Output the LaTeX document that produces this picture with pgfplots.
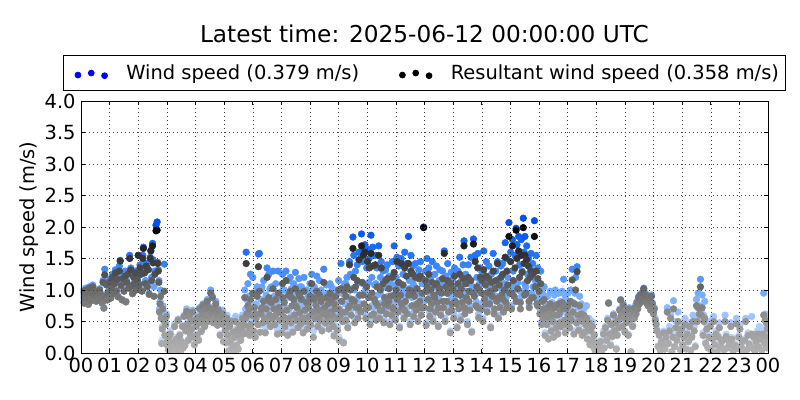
\documentclass[border=0pt]{standalone}
\usepackage{fontspec}
\setmainfont{DejaVu Sans}
\usepackage{pgfplots}
\usepackage{pgfplotstable}
\pgfplotsset{compat=1.18}

\definecolor{legblue}{RGB}{0,0,255}

\pgfplotstableread[row sep=\\]{
t w r\\
.02 .95 .93\\ .05 .85 .84\\ .08 1.0 .98\\ .11 .8 .79\\ .14 .92 .9\\ .17 1.03 1.0\\ .2 .88 .87\\ .23 .97 .95\\
.26 .78 .77\\ .29 1.05 1.03\\ .32 .9 .88\\ .35 .84 .83\\ .38 .98 .96\\ .41 1.08 1.05\\ .44 .86 .85\\ .47 .93 .92\\
.5 .99 .97\\ .53 .83 .82\\ .56 1.0 .98\\ .59 .9 .89\\ .62 .85 .84\\ .65 1.02 1.0\\ .68 .95 .93\\ .71 .88 .87\\
.74 .8 .79\\ .77 1.15 1.12\\ .8 .72 .71\\ .83 1.33 1.24\\ .86 .93 .9\\ .89 1.1 1.08\\ .92 .85 .84\\ .95 .98 .96\\
1.0 1.17 1.13\\ 1.04 .88 .87\\ 1.07 1.05 1.03\\ 1.1 1.25 1.2\\ 1.14 .95 .94\\ 1.17 1.12 1.1\\ 1.2 1.32 1.27\\ 1.24 1.0 .98\\
1.27 1.2 1.17\\ 1.3 .9 .89\\ 1.34 1.38 1.3\\ 1.37 1.47 1.46\\ 1.4 1.1 1.07\\ 1.44 .85 .84\\ 1.47 1.22 1.18\\ 1.5 1.0 .98\\
1.54 1.3 1.22\\ 1.57 .82 .81\\ 1.6 1.15 1.12\\ 1.64 1.27 1.25\\ 1.67 1.05 1.03\\ 1.7 1.55 1.5\\ 1.74 1.35 1.32\\ 1.77 1.08 1.06\\
1.8 .95 .94\\ 1.84 1.22 1.2\\ 1.87 1.12 1.1\\ 1.9 1.3 1.27\\ 1.94 1.02 1.0\\ 1.97 1.2 1.16\\
2.0 1.55 1.55\\ 2.03 1.1 1.08\\ 2.06 1.4 1.35\\ 2.1 1.28 1.25\\ 2.13 1.0 .98\\ 2.16 1.55 1.5\\ 2.18 1.68 1.66\\ 2.22 1.3 1.27\\
2.25 1.15 1.1\\ 2.28 1.42 1.38\\ 2.32 1.1 1.05\\ 2.35 1.33 1.32\\ 2.38 .95 .93\\ 2.42 1.52 1.5\\ 2.44 1.63 1.62\\ 2.47 1.2 1.15\\
2.5 1.74 1.7\\ 2.52 1.48 1.43\\ 2.55 1.05 .9\\ 2.58 1.3 1.25\\ 2.62 2.03 1.94\\ 2.66 2.08 1.95\\ 2.68 1.44 1.42\\ 2.7 1.32 1.3\\
2.72 1.15 1.12\\ 2.74 .7 .65\\ 2.76 .82 .78\\ 2.78 1.0 .9\\ 2.8 .6 .55\\ 2.82 .2 .15\\ 2.84 .42 .38\\ 2.86 .75 .7\\
2.88 .55 .52\\ 2.91 1.41 .98\\ 2.93 .3 .28\\ 2.96 .5 .45\\ 2.98 .62 .58\\
3.0 .15 .13\\ 3.03 .22 .2\\ 3.06 .08 .05\\ 3.09 .28 .27\\ 3.12 .35 .3\\ 3.15 .02 .01\\ 3.18 .18 .17\\ 3.21 .12 .1\\
3.24 .1 .08\\ 3.27 .46 .42\\ 3.3 .05 .04\\ 3.33 .25 .22\\ 3.36 .18 .16\\ 3.39 .54 .52\\ 3.42 .12 .1\\ 3.45 .3 .28\\
3.48 .03 .02\\ 3.51 .2 .18\\ 3.54 .44 .42\\ 3.57 .1 .08\\ 3.6 .6 .58\\ 3.63 .14 .12\\ 3.66 .38 .35\\ 3.69 .7 .66\\
3.72 .48 .45\\ 3.75 .22 .2\\ 3.78 .62 .58\\ 3.81 .33 .3\\ 3.84 .52 .5\\ 3.87 .4 .38\\ 3.9 .68 .65\\ 3.93 .28 .25\\ 3.96 .15 .13\\ 3.99 .56 .52\\
4.02 .45 .42\\ 4.05 .3 .28\\ 4.08 .6 .56\\ 4.11 .22 .2\\ 4.14 .72 .7\\ 4.17 .5 .48\\ 4.2 .36 .34\\ 4.23 .64 .62\\
4.26 .78 .76\\ 4.29 .55 .53\\ 4.32 .45 .42\\ 4.35 .7 .68\\ 4.38 .62 .6\\ 4.41 .85 .82\\ 4.44 .52 .5\\ 4.47 .74 .72\\
4.5 .6 .58\\ 4.53 1.0 .95\\ 4.56 .66 .64\\ 4.59 .9 .88\\ 4.62 .5 .48\\ 4.65 .72 .7\\ 4.68 .58 .56\\ 4.71 .82 .78\\
4.74 .65 .63\\ 4.77 .45 .44\\ 4.8 .7 .68\\ 4.83 .55 .53\\ 4.86 .3 .28\\ 4.89 .6 .58\\ 4.92 .48 .46\\ 4.95 .68 .62\\ 4.98 .2 .18\\
5.01 .5 .48\\ 5.04 .38 .36\\ 5.07 .18 .16\\ 5.1 .6 .55\\ 5.13 .3 .28\\ 5.16 .05 .03\\ 5.19 .45 .42\\ 5.22 .2 .18\\
5.25 .52 .5\\ 5.28 .12 .1\\ 5.31 .36 .33\\ 5.34 .02 .02\\ 5.37 .28 .25\\ 5.4 .58 .5\\ 5.43 .15 .12\\ 5.46 .4 .36\\
5.49 .08 .06\\ 5.52 .32 .3\\ 5.55 .48 .44\\ 5.58 .22 .2\\ 5.61 .42 .38\\ 5.64 .6 .55\\ 5.67 .35 .3\\ 5.7 .5 .45\\
5.72 1.0 .88\\ 5.75 .7 .55\\ 5.77 1.6 1.42\\ 5.79 .85 .62\\ 5.81 .4 .32\\ 5.83 1.1 .75\\ 5.85 .55 .42\\ 5.87 .9 .7\\
5.89 .3 .28\\ 5.92 1.25 .85\\ 5.94 .65 .45\\ 5.97 .75 .6\\
6.0 1.2 .95\\ 6.03 .5 .35\\ 6.06 .95 .72\\ 6.09 .3 .25\\ 6.12 .78 .55\\ 6.15 1.05 .9\\ 6.18 .62 .45\\ 6.2 1.57 1.37\\
6.23 1.58 .98\\ 6.26 .45 .33\\ 6.29 .85 .62\\ 6.32 1.05 .72\\ 6.35 .6 .48\\ 6.38 1.15 .82\\ 6.41 .75 .55\\ 6.44 .4 .32\\
6.47 .92 .7\\ 6.5 1.35 1.2\\ 6.53 .65 .5\\ 6.56 1.25 .88\\ 6.59 .8 .6\\ 6.62 .5 .42\\ 6.65 1.05 .8\\ 6.68 .72 .55\\
6.71 1.3 1.02\\ 6.74 .9 .7\\ 6.77 .55 .45\\ 6.8 1.1 .85\\ 6.83 .78 .62\\ 6.86 .38 .3\\ 6.89 1.3 .95\\ 6.92 .95 .72\\ 6.95 .65 .52\\ 6.98 .85 .65\\
7.01 .45 .32\\ 7.04 1.25 1.1\\ 7.07 .75 .58\\ 7.1 1.0 .8\\ 7.13 .55 .42\\ 7.16 1.3 1.15\\ 7.19 .88 .68\\ 7.22 .35 .28\\
7.25 1.15 .92\\ 7.28 .7 .55\\ 7.31 1.2 .98\\ 7.34 .6 .48\\ 7.37 .95 .75\\ 7.4 .42 .33\\ 7.43 1.1 .85\\ 7.46 .78 .6\\
7.49 1.28 1.02\\ 7.52 .65 .52\\ 7.55 .9 .72\\ 7.58 .5 .4\\ 7.61 1.18 .95\\ 7.64 .82 .64\\ 7.67 .58 .46\\ 7.7 1.05 .85\\
7.73 .72 .55\\ 7.76 .4 .32\\ 7.79 1.2 .98\\ 7.82 .85 .68\\ 7.85 .6 .5\\ 7.88 1.0 .8\\ 7.91 .48 .38\\ 7.94 .92 .72\\ 7.97 .7 .58\\
8.0 1.1 .9\\ 8.03 .55 .45\\ 8.06 1.25 1.1\\ 8.09 .8 .65\\ 8.12 .35 .25\\ 8.15 1.05 .85\\ 8.18 .65 .55\\ 8.21 .92 .75\\
8.24 1.22 .98\\ 8.27 .5 .42\\ 8.3 .82 .68\\ 8.33 1.15 .92\\ 8.36 .6 .52\\ 8.39 1.0 .82\\ 8.42 .42 .35\\ 8.45 .75 .62\\
8.48 1.33 1.12\\ 8.51 .9 .72\\ 8.54 .55 .48\\ 8.57 1.08 .88\\ 8.6 .7 .58\\ 8.63 .95 .78\\ 8.66 .45 .38\\ 8.69 .8 .65\\
8.72 .62 .5\\ 8.75 1.05 .85\\ 8.78 .72 .6\\ 8.81 .5 .42\\ 8.84 .3 .27\\ 8.87 .88 .7\\ 8.9 1.0 .9\\ 8.93 .65 .55\\ 8.96 .42 .36\\ 8.99 .82 .7\\
9.02 .25 .2\\ 9.05 .7 .58\\ 9.08 1.42 1.02\\ 9.11 .95 .82\\ 9.14 .55 .5\\ 9.17 .18 .16\\ 9.2 1.1 .98\\ 9.23 .78 .65\\
9.26 .62 .52\\ 9.29 1.2 1.05\\ 9.32 .45 .4\\ 9.35 .88 .72\\ 9.38 1.45 1.4\\ 9.41 1.25 1.0\\ 9.44 .7 .6\\ 9.47 1.02 .85\\
9.5 1.84 1.66\\ 9.53 1.55 1.2\\ 9.56 .55 .48\\ 9.59 1.3 1.05\\ 9.62 .85 .72\\ 9.65 1.4 1.15\\ 9.68 .65 .55\\ 9.71 1.6 1.48\\
9.74 1.12 .92\\ 9.77 .78 .65\\ 9.8 1.89 1.7\\ 9.83 1.45 1.12\\ 9.86 1.65 1.55\\ 9.89 .95 .78\\ 9.92 1.72 1.6\\ 9.95 .6 .55\\ 9.98 1.35 1.05\\
10.01 1.65 1.45\\ 10.04 .88 .72\\ 10.07 1.5 1.35\\ 10.1 .5 .45\\ 10.13 1.87 1.58\\ 10.16 1.2 .95\\ 10.19 1.68 1.38\\ 10.22 .72 .62\\
10.25 1.08 .85\\ 10.28 1.55 1.4\\ 10.31 .58 .52\\ 10.34 1.35 1.05\\ 10.37 .92 .75\\ 10.4 1.7 1.55\\ 10.43 .65 .55\\ 10.46 1.2 1.0\\
10.49 1.45 1.35\\ 10.52 .8 .68\\ 10.55 1.3 1.1\\ 10.58 .55 .48\\ 10.61 1.05 .88\\ 10.64 1.32 1.15\\ 10.67 .72 .62\\ 10.7 1.4 1.18\\
10.73 .9 .75\\ 10.76 1.22 1.02\\ 10.79 .5 .45\\ 10.82 1.1 .9\\ 10.85 .68 .6\\ 10.88 1.45 1.2\\ 10.91 .82 .7\\ 10.94 1.7 1.28\\ 10.97 1.05 .92\\ 10.99 .6 .52\\
11.01 1.2 1.0\\ 11.04 1.52 1.45\\ 11.07 .75 .65\\ 11.1 1.38 1.12\\ 11.13 .42 .4\\ 11.16 1.1 .92\\ 11.19 1.5 1.42\\ 11.22 .85 .72\\
11.25 1.25 1.08\\ 11.28 .6 .55\\ 11.31 1.6 1.35\\ 11.34 .98 .82\\ 11.37 1.42 1.22\\ 11.4 .72 .62\\ 11.44 1.85 1.42\\ 11.47 1.15 1.0\\
11.5 .5 .45\\ 11.53 1.55 1.3\\ 11.56 .88 .75\\ 11.59 1.38 1.25\\ 11.62 .65 .58\\ 11.65 1.05 .9\\ 11.68 1.42 1.2\\ 11.71 .78 .68\\
11.74 1.22 1.02\\ 11.77 .55 .5\\ 11.8 1.32 1.18\\ 11.83 .95 .82\\ 11.86 1.45 1.22\\ 11.89 .7 .6\\ 11.92 1.1 .95\\ 11.97 2.0 1.99\\
12.0 .82 .72\\ 12.03 1.3 1.15\\ 12.06 .48 .44\\ 12.09 1.5 1.05\\ 12.12 .98 .85\\ 12.15 1.35 1.25\\ 12.18 .65 .58\\ 12.21 1.18 1.0\\
12.24 .88 .78\\ 12.27 1.45 1.12\\ 12.3 .55 .5\\ 12.33 1.05 .92\\ 12.36 1.25 1.08\\ 12.39 .75 .65\\ 12.42 1.38 1.1\\ 12.45 .92 .8\\
12.48 .45 .42\\ 12.51 1.15 .98\\ 12.54 1.32 1.02\\ 12.57 .68 .6\\ 12.6 1.08 .95\\ 12.63 1.3 1.18\\ 12.66 .82 .72\\ 12.69 1.62 1.58\\
12.72 .55 .5\\ 12.75 1.22 1.05\\ 12.78 .95 .82\\ 12.81 1.42 1.15\\ 12.84 .72 .65\\ 12.87 1.1 .98\\ 12.9 .35 .32\\ 12.93 1.28 1.1\\ 12.96 .88 .78\\ 12.99 1.18 1.02\\
13.02 .62 .55\\ 13.05 1.35 1.22\\ 13.08 .92 .82\\ 13.11 1.05 .95\\ 13.14 .42 .4\\ 13.17 1.3 1.1\\ 13.2 .78 .7\\ 13.23 1.52 1.25\\
13.26 .58 .52\\ 13.29 1.15 1.02\\ 13.32 .88 .8\\ 13.35 1.4 1.18\\ 13.38 1.78 1.7\\ 13.41 .7 .62\\ 13.44 1.25 1.1\\ 13.47 .98 .88\\
13.5 .5 .45\\ 13.53 1.4 1.2\\ 13.56 1.1 .98\\ 13.59 .75 .68\\ 13.62 1.52 1.15\\ 13.65 .35 .33\\ 13.71 1.81 1.73\\ 13.74 1.0 .9\\
13.77 1.55 1.45\\ 13.8 .82 .75\\ 13.83 1.2 1.05\\ 13.86 1.58 1.35\\ 13.89 .62 .56\\ 13.92 1.1 1.0\\ 13.95 1.35 1.2\\ 13.98 .78 .7\\
14.01 1.28 1.15\\ 14.04 .55 .5\\ 14.07 1.62 1.32\\ 14.1 .92 .85\\ 14.13 1.18 1.08\\ 14.16 1.45 1.22\\ 14.19 .72 .65\\ 14.22 1.05 .95\\
14.25 1.38 1.18\\ 14.28 .85 .78\\ 14.31 .42 .4\\ 14.34 1.25 1.12\\ 14.37 .98 .9\\ 14.4 1.58 1.3\\ 14.43 .68 .62\\ 14.46 1.12 1.02\\
14.49 1.3 1.15\\ 14.52 .9 .82\\ 14.55 1.45 1.42\\ 14.58 .6 .55\\ 14.61 1.18 1.08\\ 14.64 .8 .72\\ 14.67 1.38 1.2\\ 14.7 1.0 .92\\
14.73 1.42 1.25\\ 14.76 .72 .65\\ 14.79 1.1 1.0\\ 14.82 1.75 1.52\\ 14.85 .88 .8\\ 14.88 1.5 1.3\\ 14.91 1.2 1.08\\ 14.95 2.07 1.85\\
14.98 1.02 .95\\ 15.01 1.6 1.45\\ 15.04 .75 .7\\ 15.07 1.8 1.7\\ 15.1 1.3 1.15\\ 15.13 1.0 .9\\ 15.16 1.55 1.35\\ 15.2 1.98 1.95\\
15.23 1.72 1.5\\ 15.26 1.12 1.02\\ 15.29 1.85 1.62\\ 15.32 1.4 1.2\\ 15.35 .88 .8\\ 15.38 1.8 1.55\\ 15.41 1.3 1.28\\ 15.45 2.14 1.99\\
15.48 1.6 1.42\\ 15.51 1.85 1.55\\ 15.54 1.05 .95\\ 15.57 1.7 1.48\\ 15.6 1.25 1.15\\ 15.63 1.5 1.38\\ 15.66 .78 .72\\ 15.69 1.35 1.2\\
15.72 1.58 1.3\\ 15.75 .95 .88\\ 15.78 1.42 1.25\\ 15.84 2.1 1.85\\ 15.87 1.15 1.05\\ 15.9 1.55 1.3\\ 15.93 .85 .78\\ 15.96 1.35 1.18\\
16.0 1.05 .98\\ 16.03 .7 .62\\ 16.06 1.3 1.1\\ 16.09 .5 .45\\ 16.12 .95 .82\\ 16.15 .65 .55\\ 16.18 1.05 .85\\ 16.21 .32 .28\\
16.24 .78 .62\\ 16.27 .55 .45\\ 16.3 .9 .72\\ 16.33 .25 .22\\ 16.36 .68 .55\\ 16.39 .98 .78\\ 16.42 .42 .35\\ 16.45 .8 .65\\
16.48 .58 .5\\ 16.51 .3 .25\\ 16.54 .92 .72\\ 16.57 1.0 .75\\ 16.6 .48 .4\\ 16.63 .72 .6\\ 16.66 .38 .3\\ 16.69 .95 .78\\
16.72 .6 .48\\ 16.75 .82 .68\\ 16.78 .5 .42\\ 16.81 .98 .8\\ 16.86 1.17 .72\\ 16.89 .65 .52\\ 16.92 .4 .32\\ 16.95 .85 .7\\ 16.98 .55 .45\\
17.01 .95 .75\\ 17.04 .72 .6\\ 17.07 .48 .4\\ 17.1 1.0 .82\\ 17.13 .62 .52\\ 17.16 1.33 1.16\\ 17.19 .8 .65\\ 17.22 .35 .3\\
17.25 .95 .78\\ 17.28 1.2 1.0\\ 17.31 .55 .48\\ 17.33 1.37 1.29\\ 17.36 .72 .6\\ 17.39 .42 .36\\ 17.42 .9 .75\\ 17.45 .62 .52\\
17.48 .78 .62\\ 17.51 .3 .28\\ 17.54 .58 .5\\ 17.57 .7 .6\\ 17.6 .35 .33\\ 17.63 .5 .45\\ 17.66 .75 .55\\ 17.69 .25 .22\\
17.72 .45 .4\\ 17.75 .55 .48\\ 17.78 .15 .13\\ 17.81 .38 .35\\ 17.84 .22 .2\\ 17.87 .5 .42\\ 17.9 .12 .1\\ 17.93 .3 .28\\ 17.96 .05 .04\\
18.0 .18 .16\\ 18.05 .02 .02\\ 18.1 .12 .1\\ 18.15 .2 .18\\ 18.2 .05 .04\\ 18.25 .35 .3\\ 18.28 .1 .08\\ 18.32 .42 .4\\
18.36 .22 .2\\ 18.4 .55 .52\\ 18.43 .8 .79\\ 18.46 .32 .3\\ 18.5 .15 .12\\ 18.53 .48 .45\\ 18.56 .28 .26\\ 18.6 .62 .6\\
18.63 .38 .35\\ 18.66 .5 .48\\ 18.7 .08 .06\\ 18.73 .3 .28\\ 18.76 .55 .52\\ 18.79 .42 .4\\ 18.82 .7 .68\\ 18.85 .85 .84\\
18.88 .62 .6\\ 18.91 .45 .42\\ 18.94 .78 .76\\ 18.97 .58 .56\\ 19.0 .35 .33\\ 19.03 .68 .65\\ 19.06 .5 .48\\ 19.09 .6 .58\\
19.12 .3 .28\\ 19.15 .72 .7\\ 19.18 .55 .53\\ 19.21 .02 .02\\ 19.24 .62 .6\\ 19.27 .45 .42\\ 19.3 .68 .66\\ 19.33 .58 .55\\
19.36 .75 .72\\ 19.39 .65 .62\\ 19.42 .82 .8\\ 19.45 .72 .7\\ 19.48 .9 .88\\ 19.51 .8 .78\\ 19.54 .94 .92\\ 19.57 .85 .82\\
19.6 .9 .88\\ 19.63 .98 .95\\ 19.66 1.03 1.02\\ 19.69 .88 .85\\ 19.72 .95 .92\\ 19.75 .82 .8\\ 19.78 .92 .9\\ 19.81 .78 .75\\
19.84 .9 .88\\ 19.87 .85 .82\\ 19.9 .7 .68\\ 19.93 .92 .9\\ 19.96 .8 .78\\ 20.0 .65 .62\\ 20.03 .72 .7\\ 20.06 .55 .52\\ 20.09 .48 .45\\ 20.12 .38 .35\\
20.16 .12 .1\\ 20.2 .3 .28\\ 20.24 .05 .04\\ 20.28 .2 .18\\ 20.32 .15 .13\\ 20.36 .35 .32\\ 20.4 .08 .06\\ 20.44 .28 .25\\
20.48 .72 .65\\ 20.52 .18 .15\\ 20.56 .42 .35\\ 20.6 .6 .55\\ 20.64 .02 .02\\ 20.68 .3 .25\\ 20.7 .83 .7\\ 20.74 .12 .1\\
20.78 .5 .4\\ 20.82 .22 .2\\ 20.86 .65 .5\\ 20.9 .35 .3\\ 20.94 .06 .05\\ 20.98 .45 .38\\
21.02 .15 .13\\ 21.06 .3 .25\\ 21.1 .55 .45\\ 21.14 .08 .06\\ 21.18 .38 .3\\ 21.22 .2 .18\\ 21.26 .48 .42\\ 21.3 .05 .04\\
21.34 .28 .25\\ 21.38 .6 .5\\ 21.42 .42 .35\\ 21.46 .12 .1\\ 21.5 .85 .75\\ 21.53 .55 .5\\ 21.56 .95 .72\\ 21.6 .75 .62\\
21.64 1.17 1.05\\ 21.67 .68 .6\\ 21.7 .92 .72\\ 21.73 .32 .28\\ 21.76 .6 .5\\ 21.79 .82 .55\\ 21.82 .18 .15\\ 21.86 .45 .38\\
21.9 .1 .08\\ 21.94 .3 .25\\ 21.98 .5 .42\\
22.02 .05 .04\\ 22.06 .25 .22\\ 22.1 .58 .5\\ 22.14 .15 .13\\ 22.18 .35 .3\\ 22.22 .02 .02\\ 22.26 .28 .25\\ 22.3 .48 .4\\
22.34 .12 .1\\ 22.38 .2 .18\\ 22.42 .22 .2\\ 22.46 .06 .05\\ 22.5 .6 .5\\ 22.54 .3 .26\\ 22.58 .1 .08\\ 22.62 .22 .2\\
22.66 .18 .15\\ 22.7 .48 .42\\ 22.74 .25 .22\\ 22.78 .03 .03\\ 22.82 .12 .1\\ 22.86 .15 .12\\ 22.9 .55 .46\\ 22.94 .08 .07\\ 22.98 .28 .25\\
23.02 .45 .38\\ 23.06 .12 .1\\ 23.1 .2 .18\\ 23.14 .02 .02\\ 23.18 .22 .2\\ 23.22 .55 .5\\ 23.26 .06 .05\\ 23.3 .32 .28\\
23.34 .16 .14\\ 23.38 .12 .1\\ 23.43 .58 .3\\ 23.46 .1 .08\\ 23.5 .28 .25\\ 23.54 .04 .03\\ 23.58 .2 .18\\ 23.62 .35 .3\\
23.66 .12 .1\\ 23.7 .42 .3\\ 23.74 .25 .22\\ 23.78 .05 .04\\ 23.82 .38 .3\\ 23.85 .95 .6\\ 23.88 .18 .15\\ 23.9 .62 .52\\
23.92 .3 .26\\ 23.94 .55 .48\\ 23.96 .1 .08\\ 23.98 .42 .38\\ 24.0 .2 .18\\
6.1 .95 .62\\ 6.3 1.0 .7\\ 6.6 1.02 .82\\ 6.75 .85 .58\\ 7.05 1.0 .88\\ 7.15 .72 .5\\ 7.35 1.02 .88\\ 7.5 .9 .75\\
7.65 1.05 .9\\ 7.8 .78 .55\\ 7.95 .95 .82\\ 8.1 1.0 .88\\ 8.25 .7 .58\\ 8.4 .95 .85\\ 8.55 .72 .62\\ 8.7 1.1 .95\\
8.85 .95 .78\\ 9.0 1.15 1.0\\ 9.1 .82 .65\\ 9.25 1.1 .9\\ 9.4 .85 .75\\ 9.55 1.0 .82\\ 9.7 .9 .72\\ 9.85 1.1 .92\\
9.95 1.02 .7\\ 10.05 1.12 .88\\ 10.15 .75 .6\\ 10.3 1.1 .8\\ 10.45 .95 .68\\ 10.6 .88 .78\\ 10.75 1.05 .82\\ 10.9 .92 .72\\
11.05 1.1 .85\\ 11.2 1.02 .78\\ 11.3 .88 .68\\ 11.45 1.02 .92\\ 11.6 1.1 .98\\ 11.75 .98 .78\\ 11.9 .9 .72\\ 12.05 1.12 .98\\
12.2 .92 .7\\ 12.35 1.05 .88\\ 12.5 .85 .72\\ 12.65 1.1 .82\\ 12.8 1.05 .95\\ 12.95 .9 .68\\ 13.1 .98 .78\\ 13.25 1.08 .92\\
13.4 .95 .72\\ 13.55 1.12 .82\\ 13.7 1.05 .95\\ 13.85 .95 .72\\ 14.0 1.1 .95\\ 14.15 .95 .78\\ 14.3 1.05 .98\\ 14.45 .88 .7\\
14.6 1.12 .88\\ 14.75 1.05 .85\\ 14.9 .95 .72\\ 15.05 1.08 .95\\ 15.2 1.05 .82\\ 15.35 .98 .7\\ 15.5 1.1 .92\\ 15.65 .95 .82\\
15.8 1.05 .88\\ 15.95 .9 .75\\ 16.15 .88 .7\\ 16.3 .75 .58\\ 16.5 .78 .6\\ 16.7 .72 .62\\ 16.9 .92 .75\\ 17.1 .7 .55\\
}\winddata

% fading colours, darker with higher speed
\pgfplotsset{
  colormap={fadeblue}{rgb255(0cm)=(214,228,255) rgb255(5cm)=(168,200,255) rgb255(10cm)=(108,168,255) rgb255(15cm)=(42,120,248) rgb255(20cm)=(0,80,240)},
  colormap={fadeblack}{rgb255(0cm)=(178,178,178) rgb255(5cm)=(150,150,150) rgb255(10cm)=(105,105,105) rgb255(15cm)=(52,52,52) rgb255(20cm)=(0,0,0)},
  bluedots/.style={legend image code/.code={
    \path (-7.6pt,0pt) (34pt,0pt);
    \fill[legblue] (0pt,-1.5pt) circle[radius=2.2pt] (10pt,0pt) circle[radius=2.2pt] (20pt,-2pt) circle[radius=2.2pt];}},
  blackdots/.style={legend image code/.code={
    \path (-7.6pt,0pt) (34pt,0pt);
    \fill[black] (0pt,-1.5pt) circle[radius=2.2pt] (10pt,0pt) circle[radius=2.2pt] (20pt,-2pt) circle[radius=2.2pt];}},
}

\begin{document}
\begin{tikzpicture}
\useasboundingbox (0,0) rectangle (600pt,300pt);
\begin{axis}[
  at={(60.75pt,35.25pt)}, anchor=south west,
  scale only axis, width=515.25pt, height=189pt,
  xmin=0, xmax=24, ymin=0, ymax=4,
  xtick={0,...,24},
  xticklabels={00,01,02,03,04,05,06,07,08,09,10,11,12,13,14,15,16,17,18,19,20,21,22,23,00},
  ytick={0,0.5,1,1.5,2,2.5,3,3.5,4},
  yticklabels={0.0,0.5,1.0,1.5,2.0,2.5,3.0,3.5,4.0},
  tick align=inside, tick pos=both, major tick length=3pt,
  tick style={black, line width=0.4pt},
  grid=major,
  grid style={black!75, line width=0.3pt, dash pattern=on 0.75pt off 2.25pt},
  axis line style={line width=0.6pt},
  axis on top,
  clip marker paths=true,
  point meta min=0, point meta max=2,
  tick label style={font=\fontsize{14.6}{16}\selectfont},
  xticklabel style={yshift=-0.5pt},
  yticklabel style={xshift=-0.5pt},
  ylabel={Wind speed (m/s)},
  ylabel style={at={(axis description cs:-0.076,0.5)},anchor=center,font=\fontsize{14.6}{16}\selectfont},
  title={Latest time: 2025-06-12 00:00:00 UTC},
  title style={at={(axis description cs:0.5,1.199)},anchor=base,font=\fontsize{17.4}{19}\selectfont},
  legend columns=2,
  legend cell align=left,
  legend style={
    at={(axis description cs:-0.0262,1.040)}, anchor=south west,
    draw=black, line width=0.6pt,
    font=\fontsize{14.6}{16}\selectfont,
    inner xsep=3pt, inner ysep=4.8pt,
    /tikz/every even column/.append style={column sep=22.5pt},
  },
]
\addplot[scatter, only marks, mark=*, mark size=2.5pt, colormap name=fadeblue,
  scatter/use mapped color={draw=mapped color, fill=mapped color}, forget plot]
  table[x=t, y=w, meta=w] {\winddata};
\addplot[scatter, only marks, mark=*, mark size=2.5pt, colormap name=fadeblack,
  scatter/use mapped color={draw=mapped color, fill=mapped color}, forget plot]
  table[x=t, y=r, meta=r] {\winddata};
\addlegendimage{bluedots}
\addlegendentry{Wind speed (0.379 m/s)}
\addlegendimage{blackdots}
\addlegendentry{Resultant wind speed (0.358 m/s)}
\end{axis}
\end{tikzpicture}
\end{document}
